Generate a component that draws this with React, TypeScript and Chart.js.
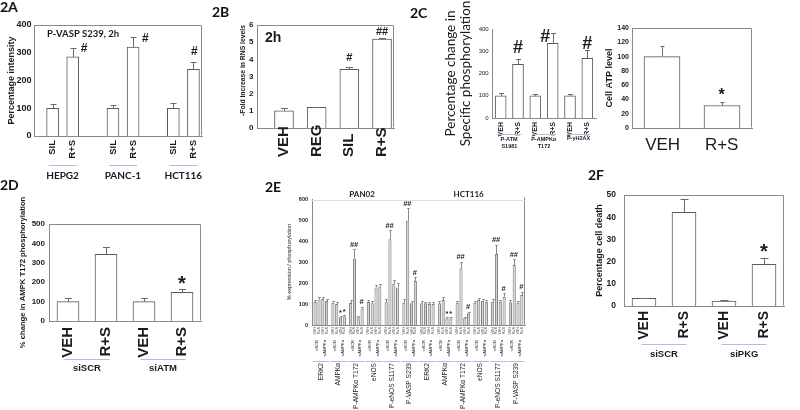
import React, { useEffect, useRef } from 'react';
import { Chart, registerables } from 'chart.js';

Chart.register(...registerables);

const SANS = "'Liberation Sans', Arial, Helvetica, sans-serif";
const NARROW = "'Liberation Sans Narrow', 'Arial Narrow', 'Liberation Sans', sans-serif";
const CAL = "Lato, 'Liberation Sans', sans-serif";
const INK = '#1b1b1b';
const AXIS = '#8a8a8a';
const EDGE = '#5a5a5a';
const ERRC = '#6a6a6a';
const BLUE = '#a8bfe6';

// ===== 2A =====
const catA = ['SIL', 'R+S', '', 'SIL', 'R+S', '', 'SIL', 'R+S'];
const valA = [100, 285, null, 100, 320, null, 100, 240];
const errA = [15, 33, null, 12, 35, null, 18, 28];
const markA = ['', '#', '', '', '#', '', '', '#'];
const yTicksA = [0, 100, 200, 300, 400];
const groupA = ['HEPG2', 'PANC-1', 'HCT116'];
const groupIdxA = [[0, 1], [3, 4], [6, 7]];
const titleA = 'P-VASP S239, 2h';

// ===== 2B =====
const catB = ['VEH', 'REG', 'SIL', 'R+S'];
const valB = [1.0, 1.2, 3.42, 5.18];
const errB = [0.16, 0.05, 0.16, 0.08];
const markB = ['', '', '#', '##'];
const yTicksB = [0, 1, 2, 3, 4, 5, 6];
const titleB = '2h';

// ===== 2C (phosphorylation) =====
const catC = ['VEH', 'R+S', 'VEH', 'R+S', 'VEH', 'R+S'];
const valC = [100, 241, 100, 336, 100, 268];
const errC = [14, 23, 10, 45, 10, 38];
const markC = ['', '#', '', '#', '', '#'];
const yTicksC = [0, 100, 200, 300, 400];
const groupC = [['P-ATM', 'S1981'], ['P-AMPKα', 'T172'], ['P-γH2AX']];
const groupIdxC = [[0, 1], [2, 3], [4, 5]];

// ===== 2C (ATP) =====
const catT = ['VEH', 'R+S'];
const valT = [100, 31.5];
const errT = [15, 5.5];
const markT = ['', '*'];
const yTicksT = [0, 20, 40, 60, 80, 100, 120, 140];

// ===== 2D =====
const catD = ['VEH', 'R+S', 'VEH', 'R+S'];
const valD = [100, 344, 100, 148];
const errD = [17, 39, 16, 17];
const markD = ['', '', '', '*'];
const yTicksD = [0, 100, 200, 300, 400, 500];
const groupD = ['siSCR', 'siATM'];
const groupIdxD = [[0, 1], [2, 3]];

// ===== 2E =====
const protE = ['ERK2', 'AMPKα', 'P-AMPKα T172', 'eNOS', 'P-eNOS S1177', 'P-VASP S239',
  'ERK2', 'AMPKα', 'P-AMPKα T172', 'eNOS', 'P-eNOS S1177', 'P-VASP S239'];
const cellE = ['PAN02', 'HCT116'];
const subE = ['VEH', 'R+S', 'VEH', 'R+S'];
const pairE = ['siSCR', 'siAMPKα'];
const scrVehE = [110, 106, 105, 110, 108, 106, 103, 103, 106, 106, 111, 108];
const scrVehErrE = [10, 10, 14, 10, 16, 16, 10, 10, 10, 10, 12, 12];
const scrRsE = [122, 100, 317, 103, 408, 497, 103, 119, 270, 119, 338, 286];
const scrRsErrE = [10, 8, 43, 10, 44, 59, 8, 12, 32, 8, 43, 27];
const ampVehE = [124, 37, 37, 179, 198, 103, 100, 32, 35, 116, 111, 106];
const ampVehErrE = [10, 5, 4, 12, 16, 12, 8, 4, 4, 8, 10, 10];
const ampRsE = [114, 40, 79, 183, 179, 210, 100, 32, 56, 111, 135, 143];
const ampRsErrE = [10, 6, 8, 12, 19, 17, 8, 4, 7, 8, 16, 16];
const scrRsMarkE = ['', '', '##', '', '##', '##', '', '', '##', '', '##', '##'];
const ampVehMarkE = ['', '*', '', '', '', '', '', '*', '', '', '', ''];
const ampRsMarkE = ['', '*', '#', '', '', '#', '', '*', '#', '', '#', '#'];
const yTicksE = [0, 100, 200, 300, 400, 500, 600];

// ===== 2F =====
const catF = ['VEH', 'R+S', 'VEH', 'R+S'];
const valF = [3.4, 42.2, 2.2, 18.8];
const errF = [0.3, 6, 0.3, 2.7];
const markF = ['', '', '', '*'];
const yTicksF = [0, 10, 20, 30, 40, 50];
const groupF = ['siSCR', 'siPKG'];
const groupIdxF = [[0, 1], [2, 3]];

const panelNames = ['2A', '2B', '2C', '2D', '2E', '2F'];
const panelPos = [[0, -0.4], [212, 5.1], [410, 5.6], [0, 177.6], [265, 179.6], [588, 167.6]];

type Font = { size: number; weight: string; family: string; lineHeight: number };
const F = (size: number, weight = 'normal', family = SANS, lineHeight = 1.2): Font => ({ size, weight, family, lineHeight });
const fs = (f: Font) => `${f.weight} ${f.size}px ${f.family}`;

interface Series { label: string; values: (number | null)[]; errors: (number | null)[]; marks: string[] }
interface Spec {
  canvas: number[]; plot: number[];
  cats: string[]; xMin: number; xMax: number;
  series: Series[];
  yTicks: number[]; yTickFont: Font; yTickPad: number;
  yTitle: string | string[]; yTitleFont: Font; yTitleX: number; yTitleAlign?: string;
  xLab: { font: Font; rot: number; dy: number; anchor: string };
  barThickness?: number; catPct?: number; barPct?: number;
  fill: string; edge: string; frame: string; cap: number; errColor: string;
  markFont: Font; markDx?: number | number[]; markDy?: number | number[];
  groups?: { labels: (string | string[])[]; idx: number[][]; lineDy: number; halfW: number; labelDy: number; lineStep: number; font: Font };
  inside?: { text: string; font: Font; dx: number; dy: number };
  extra?: (chart: any, ctx: CanvasRenderingContext2D) => void;
}

const pick = (v: number | number[] | undefined, i: number, def: number) =>
  Array.isArray(v) ? (v[i] ?? def) : (v ?? def);

function drawCentered(ctx: CanvasRenderingContext2D, text: string, cx: number, cy: number) {
  ctx.textAlign = 'left';
  ctx.textBaseline = 'alphabetic';
  const m = ctx.measureText(text);
  const w = m.actualBoundingBoxLeft + m.actualBoundingBoxRight;
  const x = cx - w / 2 + m.actualBoundingBoxLeft;
  const y = cy + (m.actualBoundingBoxAscent - m.actualBoundingBoxDescent) / 2;
  ctx.fillText(text, x, y);
}

// rotated text reading bottom-to-top; anchor 'top' = text ends at y, 'bottom' = text starts at y
function rotText(ctx: CanvasRenderingContext2D, text: string, x: number, y: number, anchor = 'top') {
  ctx.save();
  ctx.translate(x, y);
  ctx.rotate(-Math.PI / 2);
  ctx.textAlign = anchor === 'bottom' ? 'left' : 'right';
  ctx.textBaseline = 'middle';
  ctx.fillText(text, 0, 0);
  ctx.restore();
}

function hline(ctx: CanvasRenderingContext2D, x0: number, x1: number, y: number, color: string) {
  ctx.strokeStyle = color;
  ctx.lineWidth = 1;
  ctx.beginPath();
  const yy = Math.round(y) + 0.5;
  ctx.moveTo(x0, yy);
  ctx.lineTo(x1, yy);
  ctx.stroke();
}

function overlay(spec: Spec) {
  return {
    id: 'overlay',
    afterDraw(chart: any) {
      const ctx: CanvasRenderingContext2D = chart.ctx;
      const ca = chart.chartArea;
      const ys = chart.scales.y;
      const xs = chart.scales.x;
      ctx.save();
      const L = Math.floor(ca.left) + 0.5, R = Math.round(ca.right) - 0.5;
      const T = Math.floor(ca.top) + 0.5, B = Math.round(ca.bottom) - 0.5;
      ctx.strokeStyle = AXIS;
      ctx.lineWidth = 1;
      ctx.beginPath();
      if (spec.frame === 'box') { ctx.moveTo(L, T); ctx.lineTo(R, T); ctx.lineTo(R, B); }
      if (spec.frame === 'right') { ctx.moveTo(R, T - 2); ctx.lineTo(R, B); }
      ctx.stroke();

      // category labels along the x scale
      const xl = spec.xLab;
      ctx.fillStyle = INK;
      ctx.font = fs(xl.font);
      spec.cats.forEach((c, i) => {
        if (!c) return;
        const x = xs.getPixelForValue(i + 1);
        if (xl.rot === 90) rotText(ctx, c, x, ca.bottom + xl.dy, xl.anchor);
        else drawCentered(ctx, c, x, ca.bottom + xl.dy);
      });

      spec.series.forEach((s, d) => {
        const meta = chart.getDatasetMeta(d);
        s.values.forEach((v, i) => {
          if (v == null) return;
          const el = meta.data[i];
          if (!el) return;
          const x = el.x;
          const e = s.errors[i] ?? 0;
          const yv = ys.getPixelForValue(v);
          const ye = ys.getPixelForValue(v + e);
          if (e > 0) {
            const xr = Math.round(x) + 0.5;
            const yr = Math.round(ye) + 0.5;
            ctx.strokeStyle = spec.errColor;
            ctx.lineWidth = 1;
            ctx.beginPath();
            ctx.moveTo(xr, yv);
            ctx.lineTo(xr, yr);
            ctx.moveTo(xr - spec.cap / 2, yr);
            ctx.lineTo(xr + spec.cap / 2, yr);
            ctx.stroke();
          }
          const mk = s.marks[i];
          if (mk) {
            ctx.fillStyle = INK;
            ctx.font = fs(spec.markFont);
            drawCentered(ctx, mk, x + pick(spec.markDx, i, 0), ye + pick(spec.markDy, i, -8));
          }
        });
      });

      if (spec.groups) {
        const g = spec.groups;
        g.labels.forEach((lab, k) => {
          const [a, b] = g.idx[k];
          const cx = (xs.getPixelForValue(a + 1) + xs.getPixelForValue(b + 1)) / 2;
          hline(ctx, cx - g.halfW, cx + g.halfW, ca.bottom + g.lineDy, BLUE);
          ctx.fillStyle = INK;
          ctx.font = fs(g.font);
          const lines = Array.isArray(lab) ? lab : [lab];
          lines.forEach((t, j) => drawCentered(ctx, t, cx, ca.bottom + g.labelDy + j * g.lineStep));
        });
      }

      if (spec.inside) {
        ctx.fillStyle = INK;
        ctx.font = fs(spec.inside.font);
        ctx.textAlign = 'left';
        ctx.textBaseline = 'alphabetic';
        ctx.fillText(spec.inside.text, ca.left + spec.inside.dx, ca.top + spec.inside.dy);
      }
      if (spec.extra) spec.extra(chart, ctx);
      ctx.restore();
    },
  };
}

function buildConfig(spec: Spec): any {
  const [cl, ct, cw, ch] = spec.canvas;
  const [x0, y0, x1, y1] = spec.plot;
  const yW = x0 - cl;
  const xH = ct + ch - y1;
  const tf = spec.yTitleFont;
  const tlh = tf.size * tf.lineHeight;
  const zeroPad = (s: any) => { s.paddingTop = 0; s.paddingBottom = 0; s.paddingLeft = 0; s.paddingRight = 0; };
  const datasets = spec.series.map((s) => ({
    label: s.label,
    data: s.values.map((v, i) => ({ x: i + 1, y: v })),
    backgroundColor: spec.fill,
    borderColor: spec.edge,
    borderWidth: 1,
    barThickness: spec.barThickness,
    categoryPercentage: spec.catPct ?? 0.8,
    barPercentage: spec.barPct ?? 0.9,
  }));
  return {
    type: 'bar',
    data: { datasets },
    options: {
      responsive: false,
      animation: false,
      devicePixelRatio: 1,
      layout: { padding: { left: 0, top: y0 - ct, right: cl + cw - x1, bottom: 0 } },
      plugins: { legend: { display: false }, tooltip: { enabled: false }, title: { display: false } },
      scales: {
        x: {
          type: 'linear',
          offset: false,
          min: spec.xMin,
          max: spec.xMax,
          grid: { display: false, drawTicks: false },
          border: { display: true, color: AXIS, width: 1 },
          afterBuildTicks: (s: any) => { s.ticks = spec.cats.map((_, i) => ({ value: i + 1 })); },
          afterFit: (s: any) => { s.height = xH; zeroPad(s); },
          ticks: { display: false, autoSkip: false },
        },
        y: {
          type: 'linear',
          min: spec.yTicks[0],
          max: spec.yTicks[spec.yTicks.length - 1],
          grid: { display: false, drawTicks: false },
          border: { display: true, color: AXIS, width: 1 },
          afterBuildTicks: (s: any) => { s.ticks = spec.yTicks.map((v) => ({ value: v })); },
          afterFit: (s: any) => { s.width = yW; zeroPad(s); },
          ticks: { padding: spec.yTickPad, font: spec.yTickFont, color: INK, autoSkip: false },
          title: {
            display: true,
            text: spec.yTitle,
            font: tf,
            color: INK,
            align: spec.yTitleAlign ?? 'center',
            padding: { top: spec.yTitleX - cl - tlh / 2, bottom: 0 },
          },
        },
      },
    },
    plugins: [overlay(spec)],
  };
}

function drawE(chart: any, ctx: CanvasRenderingContext2D) {
  const ca = chart.chartArea;
  const metas = [0, 1, 2, 3].map((d) => chart.getDatasetMeta(d));
  ctx.fillStyle = INK;
  ctx.font = `normal 3.6px ${SANS}`;
  metas.forEach((m: any, d: number) => m.data.forEach((el: any) => rotText(ctx, subE[d], el.x, ca.bottom + 2)));
  protE.forEach((_, i) => {
    ctx.fillStyle = INK;
    ctx.font = `normal 4px ${SANS}`;
    pairE.forEach((t, p) => {
      const x = (metas[2 * p].data[i].x + metas[2 * p + 1].data[i].x) / 2;
      rotText(ctx, t, x, ca.bottom + 15);
    });
    const w = metas[0].data[i].width || 3;
    hline(ctx, metas[0].data[i].x - w / 2 - 1, metas[3].data[i].x + w / 2 + 1, ca.bottom + 36, BLUE);
  });
  cellE.forEach((name, c) => {
    const first = metas[0].data[c * 6].x;
    const last = metas[3].data[c * 6 + 5].x;
    hline(ctx, first - 4, last + 4, ca.top + 1, '#d3dff2');
    ctx.fillStyle = INK;
    ctx.font = `bold 8px ${CAL}`;
    drawCentered(ctx, name, (first + last) / 2 - 3, ca.top - 5);
  });
}

const specA: Spec = {
  canvas: [0, 16, 206, 172], plot: [34, 25, 202, 136],
  cats: catA, xMin: 0.075, xMax: 8.425,
  series: [{ label: 'P-VASP', values: valA, errors: errA, marks: markA }],
  yTicks: yTicksA, yTickFont: F(9, 'bold'), yTickPad: 2.5,
  yTitle: 'Percentage intensity', yTitleFont: F(9, 'bold'), yTitleX: 12,
  xLab: { font: F(9.5, 'bold'), rot: 90, dy: 4, anchor: 'top' },
  barThickness: 12, fill: '#ffffff', edge: EDGE, frame: 'box', cap: 6, errColor: ERRC,
  markFont: F(12, 'bold'), markDx: [0, 11.5, 0, 0, 12.5, 0, 0, 1], markDy: [0, 0, 0, 0, 0, 0, 0, -11.5],
  groups: { labels: groupA, idx: groupIdxA, lineDy: 29, halfW: 14, labelDy: 39, lineStep: 8, font: F(10, 'bold', CAL) },
  inside: { text: titleA, font: F(9.5, 'bold', CAL), dx: 13, dy: 11.5 },
};

const specB: Spec = {
  canvas: [205, 16, 192, 156], plot: [257, 25, 394, 128],
  cats: catB, xMin: 0.174, xMax: 4.367,
  series: [{ label: 'RNS', values: valB, errors: errB, marks: markB }],
  yTicks: yTicksB, yTickFont: F(8, 'bold'), yTickPad: 3.5,
  yTitle: '-Fold increase in RNS levels', yTitleFont: F(6.8, 'bold'), yTitleX: 243, yTitleAlign: 'end',
  xLab: { font: F(15, 'bold', NARROW), rot: 90, dy: 29, anchor: 'bottom' },
  barThickness: 19, fill: '#ffffff', edge: EDGE, frame: 'box', cap: 7, errColor: ERRC,
  markFont: F(11, 'bold'), markDx: 0, markDy: [0, 0, -9.7, -7],
  inside: { text: titleB, font: F(14, 'bold'), dx: 8, dy: 16.5 },
};

const specC: Spec = {
  canvas: [430, 0, 170, 152], plot: [492, 29, 596, 118],
  cats: catC, xMin: 0.5, xMax: 6.5,
  series: [{ label: 'phospho', values: valC, errors: errC, marks: markC }],
  yTicks: yTicksC, yTickFont: F(6, 'normal'), yTickPad: 3.3,
  yTitle: ['Percentage change in', 'Specific phosphorylation'], yTitleFont: F(13.5, 'normal', CAL, 1.11), yTitleX: 451,
  xLab: { font: F(7, 'bold', NARROW), rot: 90, dy: 4, anchor: 'top' },
  barThickness: 11, fill: '#ffffff', edge: EDGE, frame: 'axes', cap: 5, errColor: ERRC,
  markFont: F(18, 'bold'), markDx: [0, 0, 0, -7.5, 0, 0], markDy: [0, -12.5, 0, 2, 0, -7.5],
  groups: { labels: groupC, idx: groupIdxC, lineDy: 15.5, halfW: 12, labelDy: 20.5, lineStep: 7.5, font: F(5.5, 'bold') },
};

const specT: Spec = {
  canvas: [600, 16, 160, 142], plot: [632, 28, 752, 128],
  cats: catT, xMin: 0.5, xMax: 2.5,
  series: [{ label: 'ATP', values: valT, errors: errT, marks: markT }],
  yTicks: yTicksT, yTickFont: F(7, 'bold'), yTickPad: 3,
  yTitle: 'Cell ATP level', yTitleFont: F(9, 'bold'), yTitleX: 610,
  xLab: { font: F(17, 'normal'), rot: 0, dy: 15.5, anchor: 'center' },
  barThickness: 36, fill: '#ffffff', edge: EDGE, frame: 'box', cap: 4, errColor: ERRC,
  markFont: F(16, 'bold'), markDx: 0, markDy: -9.6,
};

const specD: Spec = {
  canvas: [0, 188, 206, 190], plot: [49, 224, 201, 321],
  cats: catD, xMin: 0.5, xMax: 4.5,
  series: [{ label: 'AMPK', values: valD, errors: errD, marks: markD }],
  yTicks: yTicksD, yTickFont: F(8, 'bold'), yTickPad: 4,
  yTitle: '% change in AMPK T172 phosphorylation', yTitleFont: F(7.7, 'bold'), yTitleX: 23,
  xLab: { font: F(15, 'bold'), rot: 90, dy: 6, anchor: 'top' },
  barThickness: 22, fill: '#ffffff', edge: EDGE, frame: 'box', cap: 7, errColor: ERRC,
  markFont: F(20, 'bold'), markDx: 0, markDy: -9,
  groups: { labels: groupD, idx: groupIdxD, lineDy: 38, halfW: 22.5, labelDy: 46, lineStep: 10, font: F(9.5, 'bold') },
};

const specE: Spec = {
  canvas: [262, 184, 268, 226], plot: [312, 199, 525, 325],
  cats: protE, xMin: 0.5, xMax: 12.5,
  series: [
    { label: 'siSCR VEH', values: scrVehE, errors: scrVehErrE, marks: [] },
    { label: 'siSCR R+S', values: scrRsE, errors: scrRsErrE, marks: scrRsMarkE },
    { label: 'siAMPKα VEH', values: ampVehE, errors: ampVehErrE, marks: ampVehMarkE },
    { label: 'siAMPKα R+S', values: ampRsE, errors: ampRsErrE, marks: ampRsMarkE },
  ],
  yTicks: yTicksE, yTickFont: F(5.5, 'bold'), yTickPad: 4,
  yTitle: '% expression / phosphorylation', yTitleFont: F(5.5, 'normal'), yTitleX: 289,
  xLab: { font: F(6.6, 'normal'), rot: 90, dy: 38, anchor: 'top' },
  catPct: 0.86, barPct: 0.82, fill: '#d2d2d2', edge: '#7a7a7a', frame: 'right', cap: 2.5, errColor: '#888888',
  markFont: F(7.5, 'bold'), markDx: 0, markDy: -5,
  extra: drawE,
};

const specF: Spec = {
  canvas: [588, 185, 207, 180], plot: [624, 195, 784, 306],
  cats: catF, xMin: 0.5, xMax: 4.5,
  series: [{ label: 'death', values: valF, errors: errF, marks: markF }],
  yTicks: yTicksF, yTickFont: F(8.5, 'bold'), yTickPad: 8,
  yTitle: 'Percentage cell death', yTitleFont: F(9, 'bold'), yTitleX: 600,
  xLab: { font: F(14, 'bold'), rot: 90, dy: 5, anchor: 'top' },
  barThickness: 24, fill: '#ffffff', edge: EDGE, frame: 'box', cap: 8, errColor: ERRC,
  markFont: F(20, 'bold'), markDx: 0, markDy: -10,
  groups: { labels: groupF, idx: groupIdxF, lineDy: 38, halfW: 22.5, labelDy: 47, lineStep: 10, font: F(9.5, 'bold') },
};

const specs = [specA, specB, specC, specT, specD, specE, specF];

function Panel({ spec }: { spec: Spec }) {
  const ref = useRef<HTMLCanvasElement | null>(null);
  useEffect(() => {
    if (!ref.current) return;
    const chart = new Chart(ref.current, buildConfig(spec));
    return () => chart.destroy();
  }, [spec]);
  const [l, t, w, h] = spec.canvas;
  return (
    <canvas
      ref={ref}
      width={w}
      height={h}
      style={{ position: 'absolute', left: l, top: t, width: w, height: h }}
    />
  );
}

export default function App() {
  return (
    <div style={{ position: 'absolute', left: 0, top: 0, width: 800, height: 410, background: '#ffffff', overflow: 'hidden' }}>
      {specs.map((s, i) => <Panel key={i} spec={s} />)}
      {panelNames.map((n, i) => (
        <div
          key={n}
          style={{ position: 'absolute', left: panelPos[i][0], top: panelPos[i][1], font: `bold 14px ${CAL}`, lineHeight: '14px', color: '#111' }}
        >
          {n}
        </div>
      ))}
    </div>
  );
}
